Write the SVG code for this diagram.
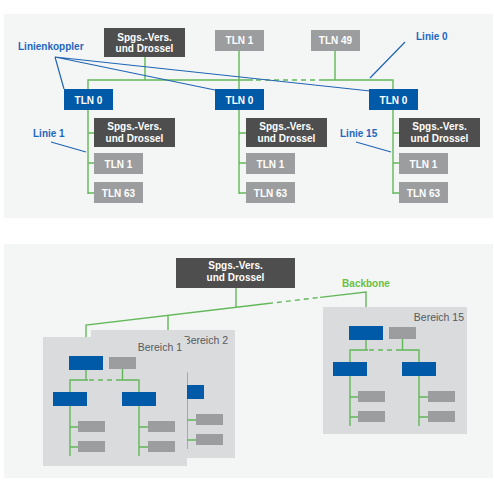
<svg xmlns="http://www.w3.org/2000/svg" xmlns:xlink="http://www.w3.org/1999/xlink" width="494" height="486" viewBox="0 0 494 486">
<style>
.bg{fill:#f4f6f6}
.area{fill:#d9dbdd}
.dark{fill:#4e4e4e}
.gray{fill:#9b9d9f}
.blue{fill:#005aa8}
.g{stroke:#62b858;stroke-width:1.4;fill:none}
.gd{stroke:#62b858;stroke-width:1.4;fill:none;stroke-dasharray:5 4}
.b{stroke:#1f64b4;stroke-width:1.2;fill:none}
.t{font-family:"Liberation Sans",Arial,sans-serif;font-size:10px;font-weight:bold;fill:#ffffff;text-anchor:middle}
.lb{font-family:"Liberation Sans",Arial,sans-serif;font-size:10px;font-weight:bold;fill:#1d67be}
.bb{font-family:"Liberation Sans",Arial,sans-serif;font-size:10px;font-weight:bold;fill:#6abf45;text-anchor:middle}
.ar{font-family:"Liberation Sans",Arial,sans-serif;font-size:10.5px;fill:#55595d;text-anchor:end}
</style>
<defs>
<g id="area-content">
<path class="g" d="M43,33 V43 H27 V119 M27,43 V55 M43,43 H45 M74,43 H96 V119 M79.5,32 V43 M27,90 H35 M27,110 H35 M96,90 H105 M96,110 H105"/>
<path class="gd" d="M46,43 H74"/>
<rect class="blue" x="26" y="19" width="34" height="14"/>
<rect class="gray" x="66" y="20" width="27" height="12"/>
<rect class="blue" x="10" y="55" width="34" height="14"/>
<rect class="blue" x="79" y="55" width="34" height="14"/>
<rect class="gray" x="35" y="84" width="27" height="11"/>
<rect class="gray" x="35" y="104" width="27" height="11"/>
<rect class="gray" x="105" y="84" width="27" height="11"/>
<rect class="gray" x="105" y="104" width="27" height="11"/>
</g>
</defs>

<rect class="bg" x="4" y="14" width="489" height="204"/>
<rect class="bg" x="4" y="244" width="489" height="234"/>

<g id="connectors">
<path class="g" d="M88,194 V80 H253 M323,80 H393 V194 M145,57 V80 M239,51 V194 M335,51 V80 M88,133 H94 M88,163 H94 M88,193 H94 M239,133 H246 M239,163 H246 M239,193 H246 M393,133 H399 M393,163 H399 M393,193 H399"/>
<path class="gd" d="M256,80 H323"/>
<path class="g" d="M86,356 V325 L268,303.5 M320,297.4 L366,292 V326 M236,288 V307.2 M168,315.3 V330"/>
<path class="gd" d="M268,303.5 L320,297.4"/>
</g>

<g id="pointers">
<path class="b" d="M55,57 L64,89 M55,57 L215,90 M55,57 L370,91 M405,42 L370,78 M51,142 L86,152 M356,142 L391,152"/>
</g>

<g id="labels">
<text class="lb" x="18" y="50">Linienkoppler</text>
<text class="lb" x="416" y="40">Linie 0</text>
<text class="lb" x="33" y="137">Linie 1</text>
<text class="lb" x="340" y="137">Linie 15</text>
<text class="bb" x="366" y="287">Backbone</text>
</g>

<g id="spgs-top"><rect class="dark" x="104" y="28" width="81" height="29"/><text class="t" x="144.5" y="40.5">Spgs.-Vers.</text><text class="t" x="144.5" y="52">und Drossel</text></g>
<g id="tln1-top"><rect class="gray" x="215" y="30" width="49" height="21"/><text class="t" x="239.5" y="44">TLN 1</text></g>
<g id="tln49-top"><rect class="gray" x="311" y="30" width="49" height="21"/><text class="t" x="335.5" y="44">TLN 49</text></g>

<g id="tln0-left"><rect class="blue" x="64" y="89" width="49" height="21"/><text class="t" x="88.5" y="103.5">TLN 0</text></g>
<g id="tln0-mid"><rect class="blue" x="215" y="89" width="49" height="21"/><text class="t" x="239.5" y="103.5">TLN 0</text></g>
<g id="tln0-right"><rect class="blue" x="369" y="89" width="49" height="21"/><text class="t" x="393.5" y="103.5">TLN 0</text></g>

<g id="spgs-left"><rect class="dark" x="94" y="118" width="81" height="29"/><text class="t" x="134.5" y="130">Spgs.-Vers.</text><text class="t" x="134.5" y="141.5">und Drossel</text></g>
<g id="tln1-left"><rect class="gray" x="94" y="153" width="49" height="21"/><text class="t" x="118.5" y="167.5">TLN 1</text></g>
<g id="tln63-left"><rect class="gray" x="94" y="182" width="49" height="21"/><text class="t" x="118.5" y="196.5">TLN 63</text></g>

<g id="spgs-mid"><rect class="dark" x="246" y="118" width="81" height="29"/><text class="t" x="286.5" y="130">Spgs.-Vers.</text><text class="t" x="286.5" y="141.5">und Drossel</text></g>
<g id="tln1-mid"><rect class="gray" x="246" y="153" width="49" height="21"/><text class="t" x="270.5" y="167.5">TLN 1</text></g>
<g id="tln63-mid"><rect class="gray" x="246" y="182" width="49" height="21"/><text class="t" x="270.5" y="196.5">TLN 63</text></g>

<g id="spgs-right"><rect class="dark" x="399" y="118" width="81" height="29"/><text class="t" x="439.5" y="130">Spgs.-Vers.</text><text class="t" x="439.5" y="141.5">und Drossel</text></g>
<g id="tln1-right"><rect class="gray" x="399" y="153" width="49" height="21"/><text class="t" x="423.5" y="167.5">TLN 1</text></g>
<g id="tln63-right"><rect class="gray" x="399" y="182" width="49" height="21"/><text class="t" x="423.5" y="196.5">TLN 63</text></g>

<g id="spgs-backbone"><rect class="dark" x="176" y="258" width="119" height="30"/><text class="t" x="235.5" y="269">Spgs.-Vers.</text><text class="t" x="235.5" y="280.5">und Drossel</text></g>

<g id="bereich-2" transform="translate(91,330)">
<rect class="area" x="0" y="0" width="144" height="128"/>
<use href="#area-content" xlink:href="#area-content"/>
<text class="ar" x="137" y="14">Bereich 2</text>
</g>
<g id="bereich-1" transform="translate(43,337)">
<rect class="area" x="0" y="0" width="144" height="129"/>
<use href="#area-content" xlink:href="#area-content"/>
<text class="ar" x="139" y="14">Bereich 1</text>
</g>
<g id="bereich-15" transform="translate(323,307)">
<rect class="area" x="0" y="0" width="144" height="127"/>
<use href="#area-content" xlink:href="#area-content"/>
<text class="ar" x="141" y="14">Bereich 15</text>
</g>
</svg>
